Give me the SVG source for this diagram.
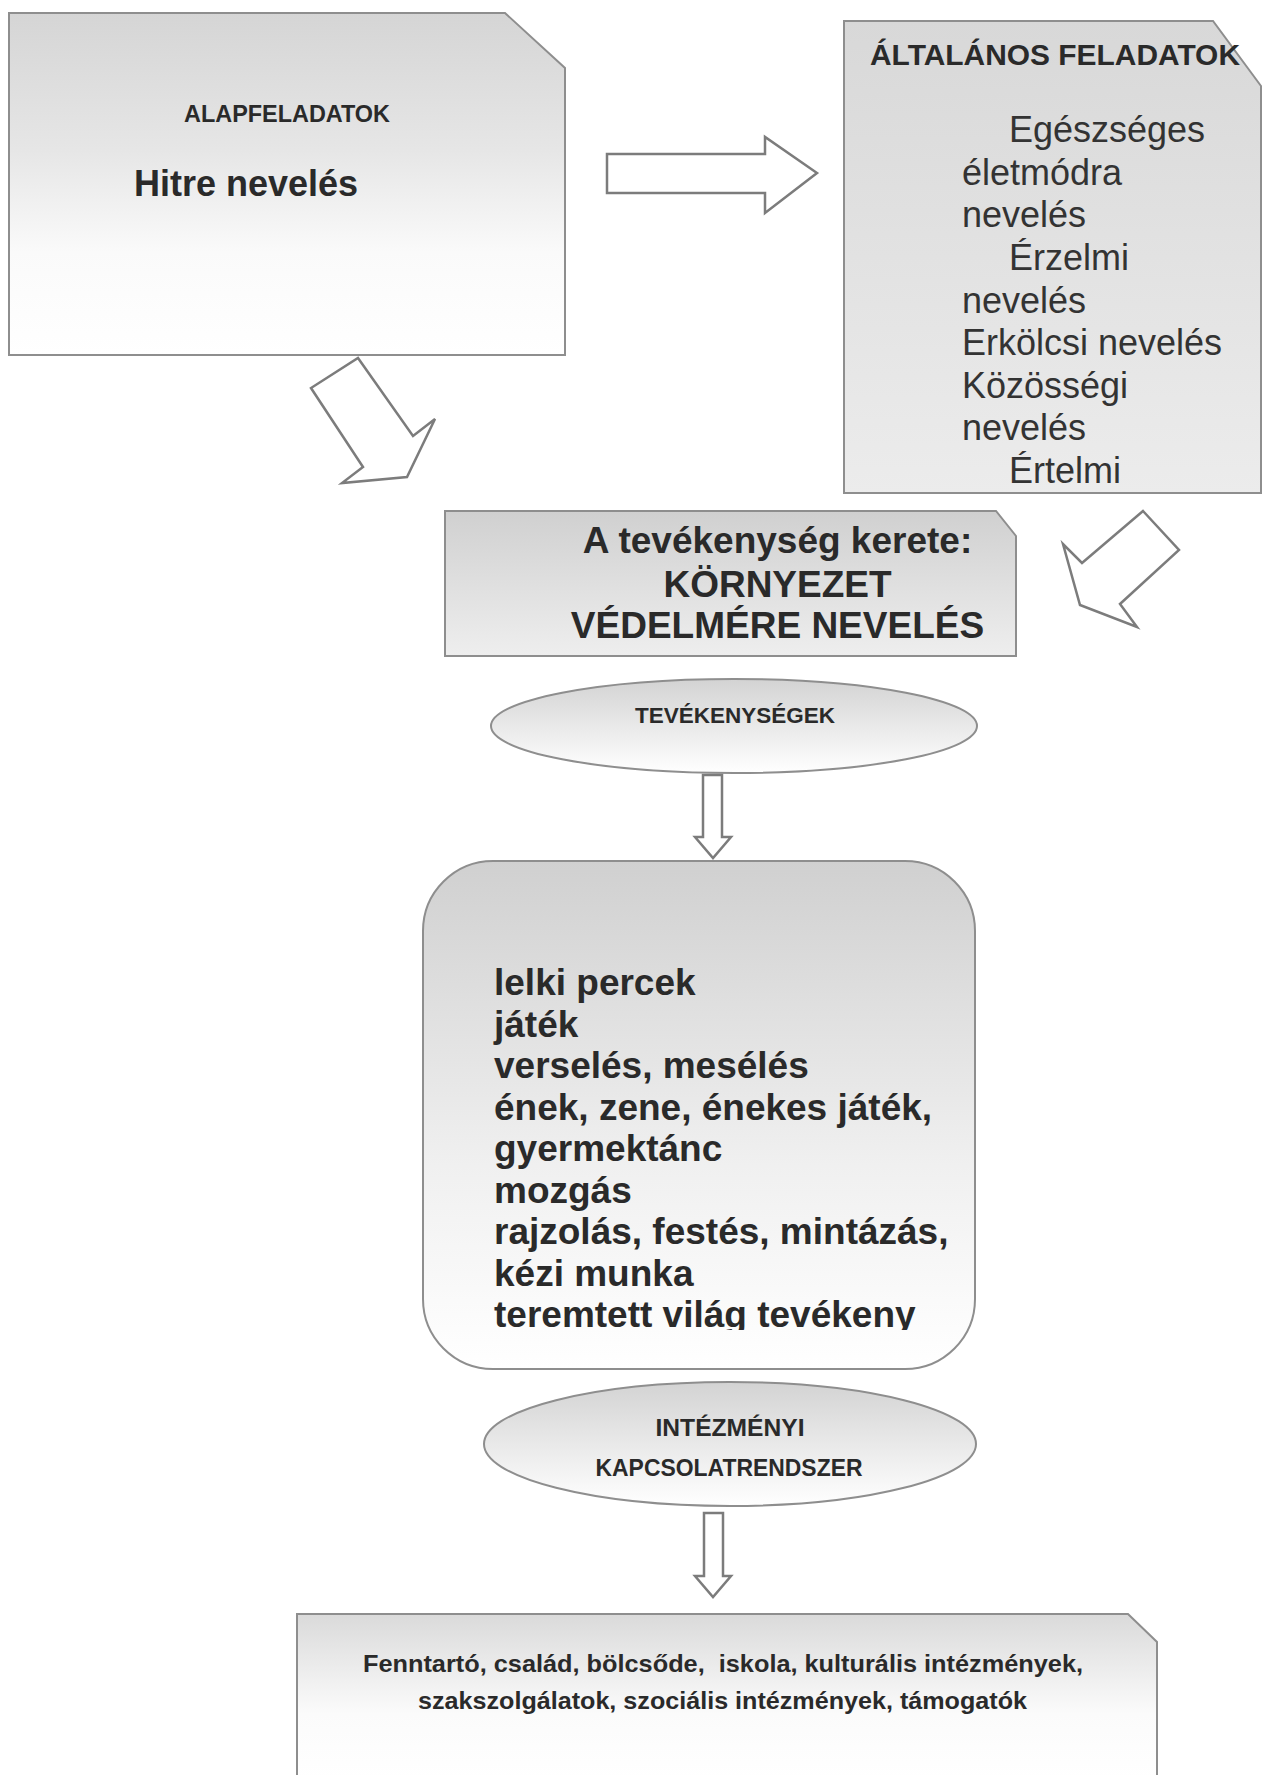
<svg xmlns="http://www.w3.org/2000/svg" width="1263" height="1775" viewBox="0 0 1263 1775">
<style>
.box{stroke:#8e8e8e;stroke-width:2}
.arr{fill:#ffffff;stroke:#7c7c7c;stroke-width:2.5;stroke-linejoin:miter}
.hb{font-family:"Liberation Sans",Arial,sans-serif;font-weight:bold;fill:#2a2a2a}
.hr{font-family:"Liberation Sans",Arial,sans-serif;fill:#333333;font-size:36px}
.c{text-anchor:middle}
</style>
<defs>
<linearGradient id="g1" x1="0" y1="0" x2="0" y2="1">
<stop offset="0" stop-color="#d5d5d5"/><stop offset="0.4" stop-color="#e6e6e6"/><stop offset="0.7" stop-color="#fafafa"/><stop offset="1" stop-color="#ffffff"/>
</linearGradient>
<linearGradient id="g2" x1="0" y1="0" x2="0" y2="1">
<stop offset="0" stop-color="#d8d8d8"/><stop offset="1" stop-color="#ececec"/>
</linearGradient>
<linearGradient id="g3" x1="0" y1="0" x2="0" y2="1">
<stop offset="0" stop-color="#d0d0d0"/><stop offset="1" stop-color="#eeeeee"/>
</linearGradient>
<linearGradient id="ge" x1="0" y1="0" x2="0" y2="1">
<stop offset="0" stop-color="#d3d3d3"/><stop offset="1" stop-color="#ffffff"/>
</linearGradient>
<linearGradient id="gr" x1="0" y1="0" x2="0" y2="1">
<stop offset="0" stop-color="#d0d0d0"/><stop offset="0.6" stop-color="#f0f0f0"/><stop offset="1" stop-color="#ffffff"/>
</linearGradient>
<linearGradient id="gb" x1="0" y1="0" x2="0" y2="1">
<stop offset="0" stop-color="#dadada"/><stop offset="0.6" stop-color="#fbfbfb"/><stop offset="1" stop-color="#ffffff"/>
</linearGradient>
<clipPath id="cut"><rect x="420" y="860" width="560" height="470"/></clipPath>
</defs>
<rect width="1263" height="1775" fill="#ffffff"/>

<g id="alapfeladatok">
<polygon class="box" fill="url(#g1)" points="9,13 505,13 565,68 565,355 9,355"/>
<text class="hb c" x="287" y="122" font-size="23" textLength="206" lengthAdjust="spacingAndGlyphs">ALAPFELADATOK</text>
<text class="hb" x="134" y="196" font-size="36">Hitre nevelés</text>
</g>

<g id="altalanos">
<polygon class="box" fill="url(#g2)" points="844,21 1213,21 1261,86 1261,493 844,493"/>
<text class="hb" x="870" y="65" font-size="29" textLength="370" lengthAdjust="spacingAndGlyphs">ÁLTALÁNOS FELADATOK</text>
<text class="hr" x="1009" y="142">Egészséges</text>
<text class="hr" x="962" y="184.5">életmódra</text>
<text class="hr" x="962" y="227">nevelés</text>
<text class="hr" x="1009" y="270">Érzelmi</text>
<text class="hr" x="962" y="312.5">nevelés</text>
<text class="hr" x="962" y="355">Erkölcsi nevelés</text>
<text class="hr" x="962" y="398">Közösségi</text>
<text class="hr" x="962" y="440">nevelés</text>
<text class="hr" x="1009" y="483">Értelmi</text>
</g>

<g id="keret">
<polygon class="box" fill="url(#g3)" points="445,511 996,511 1016,536 1016,656 445,656"/>
<text class="hb c" x="777.5" y="553" font-size="37">A tevékenység kerete:</text>
<text class="hb c" x="777.5" y="597" font-size="37">KÖRNYEZET</text>
<text class="hb c" x="777.5" y="638" font-size="37">VÉDELMÉRE NEVELÉS</text>
</g>

<g id="tevekenysegek">
<ellipse class="box" fill="url(#ge)" cx="734" cy="726" rx="243" ry="47"/>
<text class="hb c" x="735" y="723" font-size="22" textLength="200" lengthAdjust="spacingAndGlyphs">TEVÉKENYSÉGEK</text>
</g>

<g id="lista">
<rect class="box" fill="url(#gr)" x="423" y="861" width="552" height="508" rx="70" ry="70"/>
<g class="hb" font-size="37">
<text x="494" y="995">lelki percek</text>
<text x="494" y="1036.5">játék</text>
<text x="494" y="1078">verselés, mesélés</text>
<text x="494" y="1119.5">ének, zene, énekes játék,</text>
<text x="494" y="1161">gyermektánc</text>
<text x="494" y="1202.5">mozgás</text>
<text x="494" y="1244">rajzolás, festés, mintázás,</text>
<text x="494" y="1285.5">kézi munka</text>
<text x="494" y="1327" clip-path="url(#cut)">teremtett világ tevékeny</text>
</g>
</g>

<g id="intezmenyi">
<ellipse class="box" fill="url(#ge)" cx="730" cy="1444" rx="246" ry="62"/>
<text class="hb c" x="730" y="1436" font-size="23" textLength="149" lengthAdjust="spacingAndGlyphs">INTÉZMÉNYI</text>
<text class="hb c" x="729" y="1476" font-size="23" textLength="267" lengthAdjust="spacingAndGlyphs">KAPCSOLATRENDSZER</text>
</g>

<g id="partnerek">
<polygon class="box" fill="url(#gb)" points="297,1614 1128,1614 1157,1642 1157,1780 297,1780"/>
<text class="hb c" x="723" y="1672" font-size="24" textLength="720" lengthAdjust="spacingAndGlyphs" xml:space="preserve">Fenntartó, család, bölcsőde,  iskola, kulturális intézmények,</text>
<text class="hb c" x="722.5" y="1709" font-size="24" textLength="609" lengthAdjust="spacingAndGlyphs">szakszolgálatok, szociális intézmények, támogatók</text>
</g>

<g id="connectors">
<polygon class="arr" points="607,154 765,154 765,137 817,173 765,213 765,193 607,193"/>
<polygon class="arr" points="358,358 413,436 435,419 407,477 342,483 363,467 311,388"/>
<polygon class="arr" points="1143,511 1179,550 1120,604 1137,627 1080,605 1063,544 1082,563"/>
<polygon class="arr" points="703,775 722,775 722,837 731,837 713,858 695,837 703,837"/>
<polygon class="arr" points="704,1513 723,1513 723,1576 731,1576 713,1597 695,1576 704,1576"/>
</g>
</svg>
